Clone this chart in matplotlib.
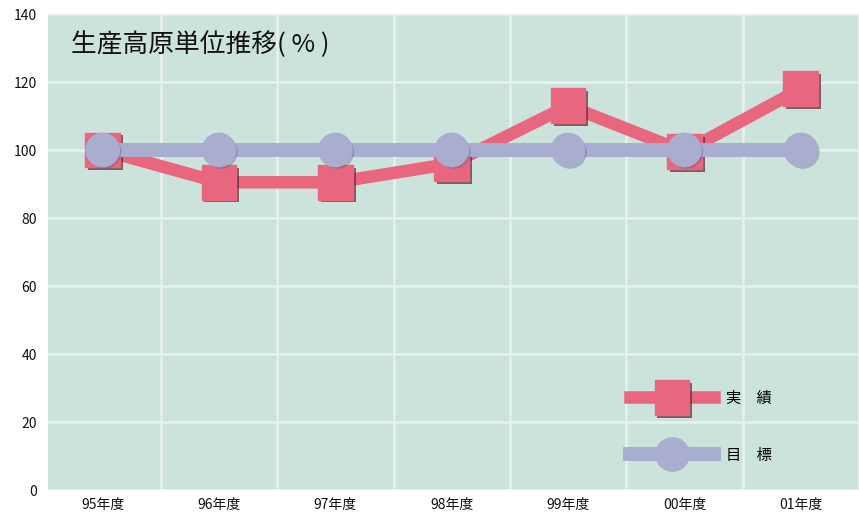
import matplotlib
matplotlib.use('Agg')
import matplotlib.pyplot as plt
import matplotlib.patheffects as pe
from matplotlib.lines import Line2D

plt.rcParams['font.family'] = ['Noto Sans CJK JP', 'DejaVu Sans']

YEARS = ['95年度', '96年度', '97年度', '98年度', '99年度', '00年度', '01年度']
ACTUAL = [100, 90.5, 90.5, 96, 113, 99.5, 118]
TARGET = [100, 100, 100, 100, 100, 100, 100]
YTICKS = [0, 20, 40, 60, 80, 100, 120, 140]

PINK = '#e8677f'
BLUE = '#a9adcf'
BG = '#cce3db'
GRID = '#e6f2ed'

fig = plt.figure(figsize=(8.59, 5.16), dpi=100)
ax = fig.add_axes([48 / 859, 26 / 516, 811 / 859, 476 / 516])
ax.set_facecolor(BG)

x = list(range(len(YEARS)))
sq_shadow = [pe.SimplePatchShadow(offset=(2, -2), shadow_rgbFace='#5a2535', alpha=0.7), pe.Normal()]
ci_shadow = [pe.SimplePatchShadow(offset=(1.5, -1.5), shadow_rgbFace='#55587a', alpha=0.35), pe.Normal()]

# lines first, markers on top with a small drop shadow
ax.plot(x, ACTUAL, color=PINK, lw=9, solid_joinstyle='miter', zorder=3)
ax.plot(x, ACTUAL, ls='none', marker='s', ms=25, mfc=PINK, mec=PINK, zorder=3.5,
        path_effects=sq_shadow)
ax.plot(x, TARGET, color=BLUE, lw=10, zorder=4)
ax.plot(x, TARGET, ls='none', marker='o', ms=24, mfc=BLUE, mec=BLUE, zorder=4.5,
        path_effects=ci_shadow)

ax.set_xlim(-0.47, 6.5)
ax.set_ylim(0, 140)
ax.set_yticks(YTICKS)
ax.set_xticks(x)
ax.set_xticklabels(YEARS)
ax.set_xticks([i + 0.5 for i in x], minor=True)
ax.tick_params(axis='both', which='both', length=0, labelsize=10, colors='#111111')
ax.tick_params(axis='y', pad=8)
ax.tick_params(axis='x', pad=6)
ax.grid(True, which='minor', axis='x', color=GRID, lw=1.8)
ax.grid(True, which='major', axis='y', color=GRID, lw=1.8)
ax.set_axisbelow(True)
for s in ax.spines.values():
    s.set_visible(False)

ax.text(0.028, 0.935, '生産高原単位推移( % )', transform=ax.transAxes, fontsize=18.5,
        ha='left', va='center', color='#111111')

handles = [
    Line2D([], [], color=PINK, lw=9, marker='s', ms=25, mfc=PINK, mec=PINK,
           path_effects=sq_shadow),
    Line2D([], [], color=BLUE, lw=10, marker='o', ms=24, mfc=BLUE, mec=BLUE),
]
ax.legend(handles, ['実　績', '目　標'], loc='center', bbox_to_anchor=(0.805, 0.133),
          frameon=False, fontsize=11, handlelength=5.5, labelspacing=2.6,
          handletextpad=0.8, borderpad=0)

fig.savefig('out.png', dpi=100)
